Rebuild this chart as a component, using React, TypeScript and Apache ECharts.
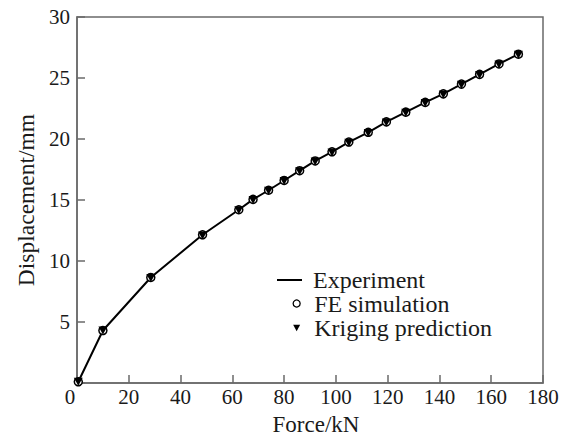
import React, { useEffect, useRef } from "react";
import * as echarts from "echarts";

const forceKN = [0.5, 10, 28.5, 48.5, 62.5, 68, 74, 80, 86, 92, 98.5, 105, 112.5, 119.5, 127, 134.5, 141.5, 148.5, 155.5, 163, 170.5];
const experiment = [0.1, 4.3, 8.65, 12.15, 14.2, 15.05, 15.8, 16.6, 17.4, 18.2, 18.95, 19.75, 20.55, 21.4, 22.2, 23.0, 23.7, 24.5, 25.3, 26.15, 26.95];
const feSimulation = [0.1, 4.3, 8.65, 12.15, 14.2, 15.05, 15.8, 16.6, 17.4, 18.2, 18.95, 19.75, 20.55, 21.4, 22.2, 23.0, 23.7, 24.5, 25.3, 26.15, 26.95];
const krigingPrediction = [0.1, 4.3, 8.6, 12.1, 14.15, 15.0, 15.75, 16.55, 17.35, 18.15, 18.9, 19.7, 20.5, 21.35, 22.15, 22.95, 23.65, 24.45, 25.25, 26.1, 26.9];

const xTicks = { min: 0, max: 180, interval: 20 };
const yTicks = { min: 0, max: 30, interval: 5 };

const FONT = "'Liberation Serif', 'Times New Roman', 'DejaVu Serif', serif";
const AXIS_COLOR = "#6a6a6a";
const TEXT_COLOR = "#1a1a1a";
const TRI_DOWN = "path://M0,0 L10,0 L5,9 Z";

export default function App() {
  const ref = useRef<HTMLDivElement>(null);

  useEffect(() => {
    if (!ref.current) return;
    const chart = echarts.init(ref.current, null, { renderer: "svg" });
    const pairs = (ys: number[]) => forceKN.map((x, i) => [x, ys[i]]);

    chart.setOption({
      animation: false,
      backgroundColor: "#ffffff",
      textStyle: { fontFamily: FONT, color: TEXT_COLOR },
      grid: {
        left: 77,
        right: 22,
        top: 17,
        bottom: 52,
        show: true,
        borderColor: AXIS_COLOR,
        borderWidth: 1.5,
        backgroundColor: "transparent",
      },
      legend: [
        {
          data: [{ name: "Experiment", icon: "rect", itemStyle: { color: "#000000" } }],
          orient: "vertical",
          left: 277,
          top: 268,
          padding: 0,
          itemGap: 0,
          itemWidth: 25,
          itemHeight: 2,
          textStyle: { fontFamily: FONT, fontSize: 24, color: TEXT_COLOR, lineHeight: 23, padding: [0, 0, 0, 6] },
        },
        {
          data: [
            { name: "FE simulation", icon: "circle", itemStyle: { color: "#ffffff", borderColor: "#000000", borderWidth: 1.3 } },
            { name: "Kriging prediction", icon: TRI_DOWN, itemStyle: { color: "#000000", borderWidth: 0 } },
          ],
          orient: "vertical",
          left: 292.5,
          top: 291.5,
          padding: 0,
          itemGap: 0.5,
          itemWidth: 7,
          itemHeight: 7,
          textStyle: { fontFamily: FONT, fontSize: 24, color: TEXT_COLOR, lineHeight: 23, padding: [0, 0, 0, 9] },
        },
      ],
      xAxis: {
        type: "value",
        min: xTicks.min,
        max: xTicks.max,
        interval: xTicks.interval,
        name: "Force/kN",
        nameLocation: "middle",
        nameGap: 30,
        nameTextStyle: { fontFamily: FONT, fontSize: 23, color: TEXT_COLOR, padding: [0, 0, 0, 12] },
        axisLine: { show: true, lineStyle: { color: AXIS_COLOR, width: 1.5 } },
        axisTick: { show: true, inside: true, length: 8, lineStyle: { color: AXIS_COLOR, width: 1.5 } },
        splitLine: { show: false },
        axisLabel: {
          fontFamily: FONT,
          fontSize: 21,
          color: TEXT_COLOR,
          margin: 3,
          formatter: (v: number) => (v === 0 ? "{z|0}" : String(v)),
          rich: { z: { fontFamily: FONT, fontSize: 21, color: TEXT_COLOR, padding: [0, 14, 0, 0] } },
        },
      },
      yAxis: {
        type: "value",
        min: yTicks.min,
        max: yTicks.max,
        interval: yTicks.interval,
        name: "Displacement/mm",
        nameLocation: "middle",
        nameGap: 39,
        nameTextStyle: { fontFamily: FONT, fontSize: 23.5, color: TEXT_COLOR },
        axisLine: { show: true, lineStyle: { color: AXIS_COLOR, width: 1.5 } },
        axisTick: { show: true, inside: true, length: 8, lineStyle: { color: AXIS_COLOR, width: 1.5 } },
        splitLine: { show: false },
        axisLabel: {
          fontFamily: FONT,
          fontSize: 21,
          color: TEXT_COLOR,
          margin: 7,
          formatter: (v: number) => (v === 0 ? "" : String(v)),
        },
      },
      series: [
        {
          name: "Experiment",
          type: "line",
          data: pairs(experiment),
          symbol: "none",
          lineStyle: { color: "#000000", width: 2 },
          itemStyle: { color: "#000000" },
          z: 2,
        },
        {
          name: "FE simulation",
          type: "scatter",
          data: pairs(feSimulation),
          symbol: "circle",
          symbolSize: 8,
          itemStyle: { color: "#ffffff", borderColor: "#000000", borderWidth: 1.5, opacity: 1 },
          z: 3,
        },
        {
          name: "Kriging prediction",
          type: "scatter",
          data: pairs(krigingPrediction),
          symbol: TRI_DOWN,
          symbolSize: [9, 8],
          itemStyle: { color: "#000000", opacity: 1 },
          z: 4,
        },
      ],
    });

    return () => chart.dispose();
  }, []);

  return <div ref={ref} style={{ position: "absolute", left: 0, top: 0, width: 565, height: 441 }} />;
}
